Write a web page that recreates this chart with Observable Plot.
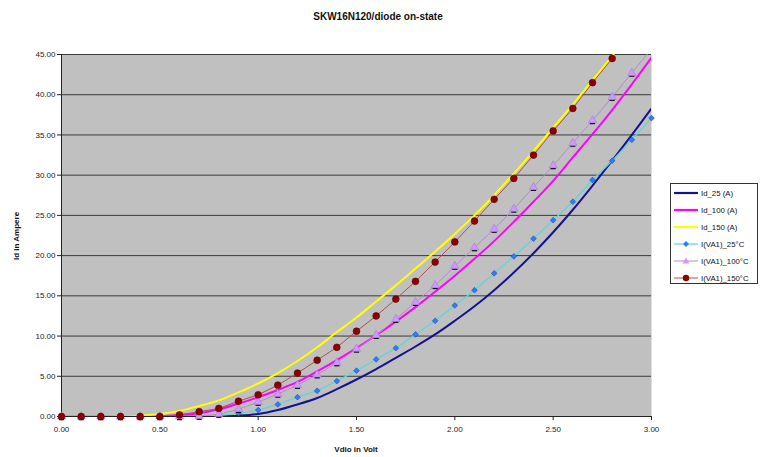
<!DOCTYPE html>
<html><head><meta charset="utf-8">
<script src="https://cdn.jsdelivr.net/npm/d3@7"></script>
<script src="https://cdn.jsdelivr.net/npm/@observablehq/plot@0.6"></script>
<style>
body{margin:0;background:#fff;font-family:"Liberation Sans",Arial,sans-serif;}
#wrap{position:relative;width:760px;height:457px;overflow:hidden;}
#title{position:absolute;left:0;width:756px;top:11px;text-align:center;font-size:10px;font-weight:bold;color:#111;}
#ylab{position:absolute;left:16px;top:236px;transform:translate(-50%,-50%) rotate(-90deg);font-size:8px;font-weight:bold;color:#111;white-space:nowrap;}
#xlab{position:absolute;left:356px;top:445px;transform:translateX(-50%);font-size:8px;font-weight:bold;color:#111;white-space:nowrap;}
#legend{position:absolute;left:670px;top:183px;width:88px;height:101px;border:1px solid #333;background:#fff;overflow:hidden;box-sizing:border-box;}
.li{position:absolute;left:2px;height:12px;display:flex;align-items:center;white-space:nowrap;font-size:7.8px;color:#111;}
.li svg{margin-right:2px;}
</style></head><body>
<div id="wrap">
<div id="chart"></div>
<div id="title">SKW16N120/diode on-state</div>
<div id="ylab">Id in Ampere</div>
<div id="xlab">Vdio in Volt</div>
<div id="legend"></div>
</div>
<script>
// Forward voltage (V)
const volts = [0,0.1,0.2,0.3,0.4,0.5,0.6,0.7,0.8,0.9,1.0,1.1,1.2,1.3,1.4,1.5,1.6,1.7,1.8,1.9,2.0,2.1,2.2,2.3,2.4,2.5,2.6,2.7,2.8,2.9,3.0];
// Model curves (A)
const id25  = [0,0,0,0,0,0,0,0,0.02,0.1,0.3,0.8,1.5,2.3,3.4,4.6,5.9,7.3,8.7,10.2,11.9,13.7,15.7,17.9,20.3,22.9,25.7,28.7,31.8,35.0,38.3];
const id100 = [0,0,0,0,0,0.05,0.2,0.4,0.9,1.6,2.4,3.3,4.3,5.6,7.0,8.5,10.1,11.8,13.6,15.5,17.5,19.6,21.8,24.2,26.7,29.3,32.2,35.1,38.1,41.3,44.6];
const id150 = [0,0,0,0.02,0.1,0.3,0.7,1.3,2.0,3.0,4.1,5.4,6.9,8.6,10.5,12.3,14.3,16.3,18.4,20.5,22.7,25.0,27.5,30.2,33.0,35.9,38.8,41.8,44.8,47.9];
// Simulated I(VA1) points (A)
const meas25  = [0,0,0,0,0,0,0,0.05,0.15,0.4,0.8,1.5,2.4,3.2,4.4,5.7,7.1,8.5,10.2,11.9,13.8,15.7,17.8,19.9,22.1,24.4,26.7,29.4,31.8,34.4,37.1];
const meas100 = [0,0,0,0,0,0,0,0.05,0.3,0.9,1.8,2.8,3.9,5.2,6.7,8.4,10.1,12.1,14.2,16.3,18.7,21.0,23.3,25.8,28.5,31.2,34.0,36.8,39.7,42.7,45.7];
const meas150 = [0,0,0,0,0,0,0.2,0.6,1.0,1.9,2.7,3.9,5.4,7.0,8.6,10.6,12.5,14.6,16.8,19.2,21.7,24.3,27.0,29.6,32.5,35.5,38.3,41.5,44.5];
const yTicks = [0,5,10,15,20,25,30,35,40,45];
const xTicks = [0,0.5,1.0,1.5,2.0,2.5,3.0];
const seriesNames = ["Id_25 (A)","Id_100 (A)","Id_150 (A)","I(VA1)_25°C","I(VA1)_100°C","I(VA1)_150°C"];

const toRows = (arr) => arr.map((v,i) => ({v: volts[i], i: v}));
const r25 = toRows(id25), r100 = toRows(id100), r150 = toRows(id150);
const m25 = toRows(meas25), m100 = toRows(meas100), m150 = toRows(meas150);

const dash = {draw(ctx, size){ const r = Math.sqrt(size/Math.PI); ctx.moveTo(-r, r+0.5); ctx.lineTo(r, r+0.5); }};

const fmt = d3.format(".2f");
const chart = Plot.plot({
  width: 760, height: 457,
  marginLeft: 61, marginRight: 109, marginTop: 54, marginBottom: 41,
  style: {fontFamily: "'Liberation Sans', Arial, sans-serif", fontSize: "8px", color: "#222", background: "transparent"},
  x: {domain: [0, 3]},
  y: {domain: [0, 45]},
  marks: [
    Plot.frame({fill: "#c0c0c0", stroke: "none"}),
    Plot.ruleY(yTicks.slice(1), {stroke: "#3a3a3a", strokeWidth: 1}),
    Plot.axisY({ticks: yTicks, tickFormat: fmt, tickSize: 4, tickPadding: 2, label: null, stroke: "#222"}),
    Plot.axisX({ticks: xTicks, tickFormat: fmt, tickSize: 4, tickPadding: 6, label: null, stroke: "#222"}),
    Plot.ruleX([0], {stroke: "#222"}),
    Plot.ruleY([0], {stroke: "#222"}),
    Plot.line(r25, {x: "v", y: "i", stroke: "#14148a", strokeWidth: 2, curve: "catmull-rom", clip: true}),
    Plot.line(r100, {x: "v", y: "i", stroke: "#ff00ff", strokeWidth: 2, curve: "catmull-rom", clip: true}),
    Plot.line(r150, {x: "v", y: "i", stroke: "#ffff00", strokeWidth: 2, curve: "catmull-rom", clip: true}),
    Plot.line(m25, {x: "v", y: "i", stroke: "#5fd6d6", strokeWidth: 1.3, clip: true}),
    Plot.line(m100, {x: "v", y: "i", stroke: "#b48ad0", strokeWidth: 1, clip: true}),
    Plot.line(m150, {x: "v", y: "i", stroke: "#b0504a", strokeWidth: 1, clip: true}),
    Plot.dot(m25, {x: "v", y: "i", symbol: "diamond2", r: 2.6, fill: "#2f7bff", stroke: "#1040a0", strokeWidth: 0.5}),
    Plot.dot(m100.filter(d => d.i <= 45), {x: "v", y: "i", symbol: dash, r: 2.6, stroke: "#000", strokeWidth: 1.3}),
    Plot.dot(m100.filter(d => d.i <= 45), {x: "v", y: "i", symbol: "triangle", r: 3.1, fill: "#cc99ff", stroke: "#a070d0", strokeWidth: 0.5}),
    Plot.dot(m150, {x: "v", y: "i", symbol: "circle", r: 3.4, fill: "#8b0000", stroke: "#5a0000", strokeWidth: 0.6})
  ]
});
document.getElementById("chart").appendChild(chart);

// Legend
const legend = document.getElementById("legend");
const legendStyles = [
  {stroke: "#14148a", w: 2.2},
  {stroke: "#ff00ff", w: 2.2},
  {stroke: "#ffff00", w: 2.2},
  {stroke: "#5fd6d6", w: 1.2, sym: "diamond", fill: "#2f7bff"},
  {stroke: "#b48ad0", w: 1, sym: "triangle", fill: "#cc99ff"},
  {stroke: "#b0504a", w: 1, sym: "circle", fill: "#8b0000"}
];
seriesNames.forEach((name, k) => {
  const s = legendStyles[k];
  const div = document.createElement("div");
  div.className = "li";
  div.style.top = (3 + k*17) + "px";
  let sym = "";
  if (s.sym === "diamond") sym = `<path d="M13,3 L16,6 L13,9 L10,6 Z" fill="${s.fill}"/>`;
  if (s.sym === "triangle") sym = `<path d="M13,2.5 L16.5,8.5 L9.5,8.5 Z" fill="${s.fill}"/>`;
  if (s.sym === "circle") sym = `<circle cx="13" cy="6" r="3.2" fill="${s.fill}"/>`;
  div.innerHTML = `<svg width="26" height="12"><line x1="1" y1="6" x2="25" y2="6" stroke="${s.stroke}" stroke-width="${s.w}"/>${sym}</svg><span>${name}</span>`;
  legend.appendChild(div);
});
</script>
</body></html>
